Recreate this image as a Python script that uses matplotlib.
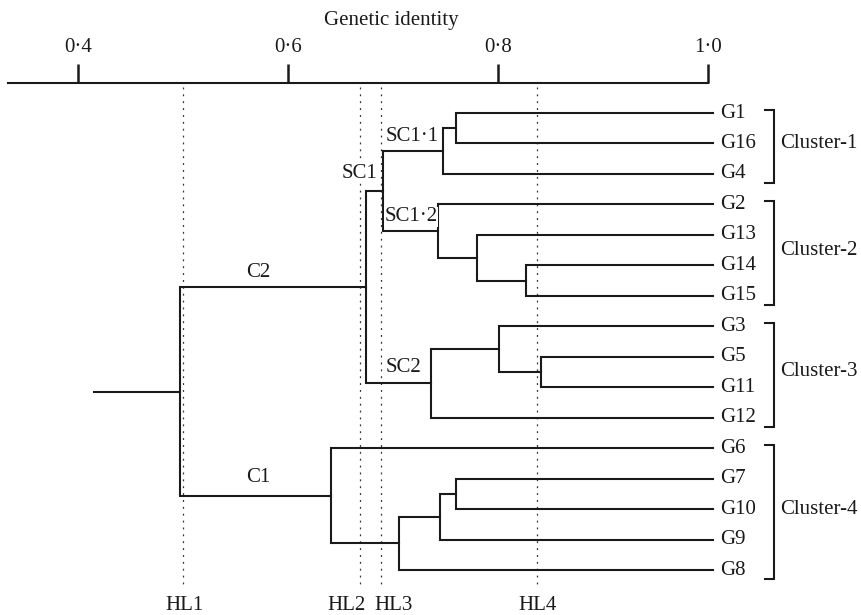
import numpy as np
import matplotlib
matplotlib.use('Agg')
import matplotlib.pyplot as plt
from matplotlib.ticker import FixedLocator, FixedFormatter

plt.rcParams['font.family'] = ['Liberation Serif', 'DejaVu Serif']
plt.rcParams['font.size'] = 15

# leaf order, top to bottom
leaves = ['G1', 'G16', 'G4', 'G2', 'G13', 'G14', 'G15', 'G3',
          'G5', 'G11', 'G12', 'G6', 'G7', 'G10', 'G9', 'G8']

# merges: (child a, child b, genetic identity at join); node name = 'n<index>'
merge_a = ['G1', 'n0', 'G14', 'G13', 'G2', 'n1', 'G5', 'G3', 'n7', 'n5',
           'G7', 'n10', 'n11', 'G6', 'n9']
merge_b = ['G16', 'G4', 'G15', 'n2', 'n3', 'n4', 'G11', 'n6', 'G12', 'n8',
           'G10', 'G9', 'G8', 'n12', 'n13']
merge_h = [0.760, 0.748, 0.827, 0.780, 0.743, 0.690, 0.841, 0.801, 0.736,
           0.674, 0.760, 0.745, 0.706, 0.641, 0.497]
root_stub = 0.415
leaf_end = 1.005

# node labels
node_names = ['C2', 'C1', 'SC1', 'SC2', 'SC1·1', 'SC1·2']
node_x = [0.572, 0.572, 0.668, 0.710, 0.718, 0.717]
node_y = [5.22, 11.95, 1.97, 8.34, 0.755, 3.41]

# clusters
cluster_names = ['Cluster-1', 'Cluster-2', 'Cluster-3', 'Cluster-4']
cluster_first = ['G1', 'G2', 'G3', 'G6']
cluster_last = ['G4', 'G15', 'G12', 'G8']

# reference lines and where their names sit
hl_names = ['HL1', 'HL2', 'HL3', 'HL4']
hl_x = [0.500, 0.669, 0.689, 0.837]
hl_label_x = [0.501, 0.6557, 0.7005, 0.838]

ticks = [0.4, 0.6, 0.8, 1.0]
tick_labels = ['0·4', '0·6', '0·8', '1·0']

ink = '#1a1a1a'
lw = 1.5

fig = plt.figure(figsize=(8.61, 6.15), dpi=100)
ax = fig.add_axes([0, 0, 1, 1])
ax.set_xlim(0.4 - 78 / 1050, 0.4 + 783 / 1050)
ax.set_ylim(502 / 30.47, -113 / 30.47)

pos = {name: (leaf_end, i) for i, name in enumerate(leaves)}
for k, (a, b, h) in enumerate(zip(merge_a, merge_b, merge_h)):
    xa, ya = pos[a]
    xb, yb = pos[b]
    ax.plot([xa, h, h, xb], [ya, ya, yb, yb], color=ink, lw=lw,
            solid_joinstyle='miter', zorder=3)
    pos['n%d' % k] = (h, (ya + yb) / 2)

rx, ry = pos['n%d' % (len(merge_h) - 1)]
ax.plot([root_stub, rx], [ry, ry], color=ink, lw=lw, zorder=3)

for name, y in zip(leaves, range(len(leaves))):
    ax.text(1.0114, y, name, ha='left', va='center', color=ink)

for name, x, y in zip(node_names, node_x, node_y):
    ax.text(x, y, name, ha='center', va='center', color=ink, zorder=4,
            bbox=dict(facecolor='white', edgecolor='none', pad=0.5))

bx, btick = 1.0629, 1.0543
for name, f, l in zip(cluster_names, cluster_first, cluster_last):
    top = leaves.index(f) - 0.1
    bot = leaves.index(l) + 0.3
    ax.plot([btick, bx, bx, btick], [top, top, bot, bot], color=ink, lw=lw,
            solid_joinstyle='miter')
    ax.text(bx + 0.006, (top + bot) / 2 - 0.1, name, ha='left', va='center',
            color=ink)

for name, x, lx in zip(hl_names, hl_x, hl_label_x):
    ax.plot([x, x], [-0.85, 15.59], color='#333333', lw=0.9,
            linestyle=(0, (1.5, 4)), zorder=2)
    ax.text(lx, 16.15, name, ha='center', va='center', color=ink)

# genetic identity axis on top
for side in ['left', 'right', 'bottom']:
    ax.spines[side].set_visible(False)
ax.spines['top'].set_position(('data', -30 / 30.47))
ax.spines['top'].set_bounds(0.333, 1.0)
ax.spines['top'].set_linewidth(1.5)
ax.spines['top'].set_color(ink)
ax.xaxis.set_ticks_position('top')
ax.xaxis.set_major_locator(FixedLocator(ticks))
ax.xaxis.set_major_formatter(FixedFormatter(tick_labels))
ax.tick_params(axis='x', direction='out', length=14, width=1.8, pad=5,
               colors=ink, labelsize=15)
ax.set_yticks([])
ax.xaxis.set_label_position('top')
ax.set_xlabel('Genetic identity', va='center', color=ink)
ax.xaxis.set_label_coords(391 / 861, 1 - 20 / 615)

fig.savefig('out.png', dpi=100)
